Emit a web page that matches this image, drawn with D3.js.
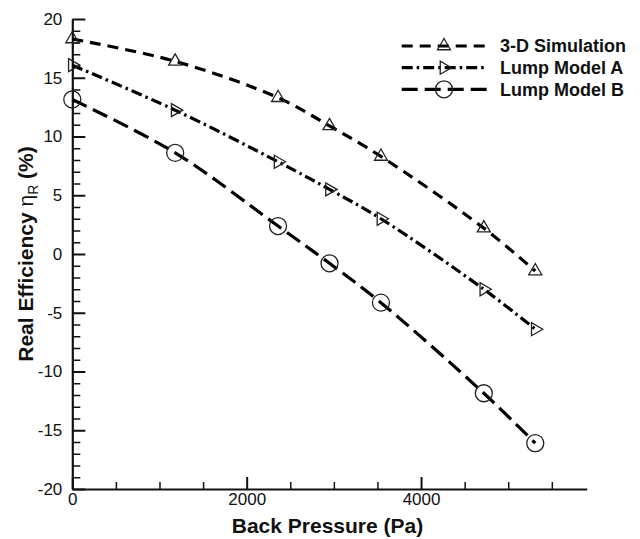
<!DOCTYPE html>
<html>
<head>
<meta charset="utf-8">
<script src="https://cdn.jsdelivr.net/npm/d3@7"></script>
<style>
  html, body { margin: 0; padding: 0; background: #fff; }
  svg { display: block; }
  text { font-family: "Liberation Sans", Arial, Helvetica, sans-serif; }
</style>
</head>
<body>
<svg id="chart" width="640" height="539"></svg>
<script>
// ---- data ----
const backPressure = [0, 1180, 2360, 2950, 3540, 4720, 5310];
const simulation3D = [18.3, 16.4, 13.3, 10.9, 8.3, 2.2, -1.45];
const lumpModelA   = [16.07, 12.24, 7.85, 5.5, 3.0, -3.0, -6.4];
const lumpModelB   = [13.15, 8.61, 2.38, -0.79, -4.14, -11.85, -16.1];
const seriesNames  = ["3-D Simulation", "Lump Model A", "Lump Model B"];
const xTickLabels  = [0, 2000, 4000];
const yTickLabels  = [-20, -15, -10, -5, 0, 5, 10, 15, 20];

// ---- layout ----
const svg = d3.select("#chart");
const plotLeft = 72.3, plotRight = 586.7, plotTop = 19, plotBottom = 489;

const x = d3.scaleLinear().domain([0, 5900]).range([plotLeft, plotRight]);
const y = d3.scaleLinear().domain([-20, 20]).range([plotBottom, plotTop]);

// minor ticks
const xMinor = d3.range(500, 5900, 500).filter(v => v % 2000 !== 0);
const yMinor = d3.range(-19, 20, 1).filter(v => v % 5 !== 0);

const axisStroke = "#111";
const plainFormat = d => String(d);

// x axis minor
svg.append("g").attr("transform", `translate(0,${plotBottom})`)
  .call(d3.axisBottom(x).tickValues(xMinor).tickSize(-7).tickFormat(""))
  .call(g => g.select(".domain").remove())
  .call(g => g.selectAll("line").attr("stroke", axisStroke).attr("stroke-width", 1.5));
// x axis major
svg.append("g").attr("transform", `translate(0,${plotBottom})`)
  .call(d3.axisBottom(x).tickValues(xTickLabels).tickSize(-12).tickSizeOuter(0).tickPadding(4).tickFormat(plainFormat))
  .call(g => g.select(".domain").attr("stroke", axisStroke).attr("stroke-width", 2.2))
  .call(g => g.selectAll("line").attr("stroke", axisStroke).attr("stroke-width", 2))
  .call(g => g.selectAll("text").attr("font-size", 17).attr("fill", "#111")
      .attr("font-family", "'Liberation Sans', Arial, sans-serif"));

// y axis minor
svg.append("g").attr("transform", `translate(${plotLeft},0)`)
  .call(d3.axisLeft(y).tickValues(yMinor).tickSize(-8).tickFormat(""))
  .call(g => g.select(".domain").remove())
  .call(g => g.selectAll("line").attr("stroke", axisStroke).attr("stroke-width", 1.5));
// y axis major
svg.append("g").attr("transform", `translate(${plotLeft},0)`)
  .call(d3.axisLeft(y).tickValues(yTickLabels).tickSize(-13).tickSizeOuter(0).tickPadding(10).tickFormat(plainFormat))
  .call(g => g.select(".domain").attr("stroke", axisStroke).attr("stroke-width", 2.2))
  .call(g => g.selectAll("line").attr("stroke", axisStroke).attr("stroke-width", 2))
  .call(g => g.selectAll("text").attr("font-size", 17).attr("fill", "#111")
      .attr("font-family", "'Liberation Sans', Arial, sans-serif"));

// axis titles
svg.append("text")
  .attr("x", (plotLeft + plotRight) / 2 - 2).attr("y", 533)
  .attr("text-anchor", "middle").attr("font-size", 21).attr("font-weight", "bold")
  .attr("fill", "#111")
  .text("Back Pressure (Pa)");

const yt = svg.append("text")
  .attr("transform", `translate(33,${(plotTop + plotBottom) / 2}) rotate(-90)`)
  .attr("text-anchor", "middle").attr("font-size", 21).attr("font-weight", "bold")
  .attr("fill", "#111");
yt.append("tspan").text("Real Efficiency ");
yt.append("tspan").attr("font-weight", "normal").text("η");
yt.append("tspan").attr("font-size", 14).attr("font-weight", "normal").attr("dy", 5).text("R");
yt.append("tspan").attr("dy", -5).text(" (%)");

// ---- series ----
const markerUp = "M0,-7.5L6.5,3.75L-6.5,3.75Z";
const markerRight = "M7.5,0L-3.75,-6.5L-3.75,6.5Z";
const series = [
  { name: seriesNames[0], values: simulation3D, dash: "11,7", marker: "up" },
  { name: seriesNames[1], values: lumpModelA, dash: "11,4,2.5,4", marker: "right" },
  { name: seriesNames[2], values: lumpModelB, dash: "16,7", marker: "circle" }
];

const line = d3.line()
  .x(d => x(d[0])).y(d => y(d[1]))
  .curve(d3.curveCatmullRom.alpha(0.5));

function drawMarker(g, type, cx, cy) {
  if (type === "circle") {
    g.append("circle").attr("cx", cx).attr("cy", cy).attr("r", 8.5)
      .attr("fill", "none").attr("stroke", "#222").attr("stroke-width", 1.3);
  } else {
    g.append("path").attr("d", type === "up" ? markerUp : markerRight)
      .attr("transform", `translate(${cx},${cy})`)
      .attr("fill", "none").attr("stroke", "#222").attr("stroke-width", 1.3)
      .attr("stroke-linejoin", "miter");
  }
}

series.forEach(s => {
  const pts = backPressure.map((b, i) => [b, s.values[i]]);
  svg.append("path").datum(pts)
    .attr("d", line)
    .attr("fill", "none").attr("stroke", "#000").attr("stroke-width", 3.2)
    .attr("stroke-dasharray", s.dash);
  const g = svg.append("g");
  pts.forEach(p => drawMarker(g, s.marker, x(p[0]), y(p[1])));
});

// ---- legend ----
const legendRows = [46, 67.7, 89.3];
series.forEach((s, i) => {
  const ly = legendRows[i];
  svg.append("line").attr("x1", 401.7).attr("x2", 486.7).attr("y1", ly).attr("y2", ly)
    .attr("stroke", "#000").attr("stroke-width", 3.2).attr("stroke-dasharray", s.dash);
  drawMarker(svg.append("g"), s.marker, 444, ly);
  svg.append("text").attr("x", 500).attr("y", ly).attr("dy", "0.36em")
    .attr("font-size", 18).attr("font-weight", "bold").attr("fill", "#111")
    .text(s.name);
});
</script>
</body>
</html>
